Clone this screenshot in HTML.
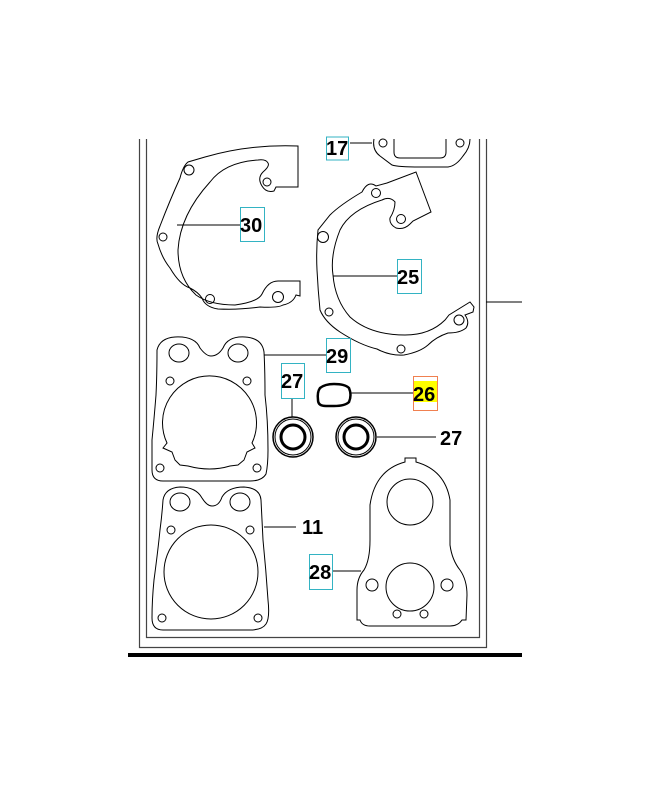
<!DOCTYPE html>
<html><head><meta charset="utf-8"><style>
html,body{margin:0;padding:0;background:#fff;}
svg{display:block}
text{font-family:"Liberation Sans",sans-serif;font-weight:bold;font-size:20px;fill:#000}
</style></head><body>
<svg width="652" height="800" viewBox="0 0 652 800" xmlns="http://www.w3.org/2000/svg">
<g fill="none" stroke="#000" stroke-width="1">
<path d="M139.5 139 V647.5 H486.5 V139" stroke="#444" stroke-width="1.2"/>
<path d="M146.5 139 V637.5 H479.5 V139" stroke="#444" stroke-width="1.2"/>
<line x1="486" y1="302" x2="522" y2="302"/>
<rect x="128" y="653" width="394" height="4" fill="#000" stroke="none"/>

<!-- gasket 17 partial -->
<path d="M374 139 Q372 150 380 156 L392 165 Q398 167 420 167 L448 167 Q456 166 463 156 Q470 148 470 139"/>
<path d="M394 139 V152 Q394 158 400 158 H440 Q446 158 446 152 V139"/>
<circle cx="383" cy="143" r="4"/><circle cx="460" cy="143" r="4"/>
<line x1="350" y1="143" x2="372" y2="143"/>

<!-- gasket 30 -->
<path d="M298 146 V187 H276 L274 191 Q266 193 262 186 Q257 178 263 172 Q270 166 268 163 Q266 159 258 160 Q225 162 210 182 Q180 215 178 250 Q178 278 196 295 Q210 305 235 305 Q258 302 262 294 Q268 281 278 281 H300 V296 L296 295 Q293 303 283 305 Q278 308 260 307 Q240 310 218 309 Q205 307 202 298 Q198 292 190 288 Q180 285 170 268 Q162 258 158 244 Q155 238 160 226 Q170 200 180 178 Q183 166 188 162 L205 157 Q250 144 298 146Z"/>
<circle cx="189" cy="170" r="5"/><circle cx="163" cy="237" r="4"/><circle cx="210" cy="299" r="4.5"/><circle cx="278" cy="297" r="5.5"/><circle cx="267" cy="182" r="4"/>
<line x1="177" y1="225" x2="240" y2="225"/>

<!-- gasket 25 -->
<path d="M416 172 L431 212 L413 221 L410 224 Q404 230 396 228 Q389 224 390 218 Q395 210 395 202 Q390 196 382 200 Q350 210 340 230 Q330 255 333 275 Q335 300 350 317 Q370 335 405 335 Q430 335 445 320 L449 315 L470 302 L474 307 L473 312 L465 315 Q470 322 466 328 Q460 333 448 333 Q436 337 428 345 Q420 352 404 355 Q390 356 377 349 Q360 345 340 332 Q325 322 320 310 Q318 290 317 270 Q316 250 318 230 Q322 225 330 215 Q340 205 362 192 Q368 180 376 186 L387 183 Z"/>
<circle cx="376" cy="193" r="4.5"/><circle cx="323" cy="237" r="5.5"/><circle cx="329" cy="312" r="4"/><circle cx="401" cy="349" r="4"/><circle cx="459" cy="320" r="5"/><circle cx="401" cy="219" r="4.5"/>
<line x1="333" y1="276" x2="397" y2="276"/>

<!-- gasket 29 -->
<path d="M157 350 Q160 338 175 337 Q195 336 200 348 Q206 356 211 356 Q218 356 223 348 Q228 336 245 337 Q262 338 264 352 Q265 370 265 395 Q268 420 268 450 Q268 465 266 474 Q262 481 250 481 H163 Q152 481 152 470 Q152 455 152 440 Q154 420 156 395 Q157 375 157 350Z"/>
<ellipse cx="179" cy="353" rx="10" ry="9"/><ellipse cx="238" cy="353" rx="10" ry="9"/>
<circle cx="170" cy="381" r="4"/><circle cx="247" cy="381" r="4"/>
<circle cx="160" cy="468" r="4"/><circle cx="257" cy="468" r="4"/>
<path d="M167 443 A47 47 0 1 1 252 443 L255 448 L247 452 L244 460 L238 465 L230 466 Q210 472 188 466 L180 465 L175 460 L172 452 L163 448Z"/>
<line x1="264" y1="355" x2="326" y2="355"/>

<!-- gasket 11 -->
<path d="M163 500 Q165 488 180 487 Q196 487 202 498 Q207 506 212 506 Q219 506 222 497 Q228 487 244 487 Q260 488 261 500 Q262 520 263 540 Q266 570 268 600 Q270 618 266 624 Q262 630 250 630 H163 Q152 630 152 618 Q152 600 154 580 Q158 550 160 530 Q162 515 163 500Z"/>
<ellipse cx="180" cy="502" rx="10" ry="9"/><ellipse cx="240" cy="502" rx="10" ry="9"/>
<circle cx="171" cy="530" r="4"/><circle cx="250" cy="530" r="4"/>
<circle cx="162" cy="618" r="4"/><circle cx="258" cy="618" r="4"/>
<circle cx="211" cy="572" r="47"/>
<line x1="264" y1="527" x2="296" y2="527"/>

<!-- gasket 28 -->
<path d="M405 462 L405 458 H416 V462 Q445 470 450 500 L450 545 Q452 560 460 570 Q467 580 467 595 L466 620 L462 620 Q458 626 450 626 H370 Q362 626 360 620 L357 620 L357 590 Q357 578 364 570 Q370 560 370 540 L370 505 Q375 470 405 462Z"/>
<circle cx="410" cy="502" r="23"/><circle cx="410" cy="587" r="24"/>
<circle cx="372" cy="585" r="6"/><circle cx="447" cy="585" r="6"/>
<circle cx="397" cy="614" r="4"/><circle cx="424" cy="614" r="4"/>
<line x1="333" y1="571" x2="361" y2="571"/>

<path d="M320 388 Q325 384 334 384 Q345 384 349 388 Q352 395 349 402 Q345 406 334 406 H326 Q318 406 318 400 Q317 392 320 388Z" stroke-width="2.5"/>
<line x1="351" y1="393" x2="413" y2="393"/>

<circle cx="293" cy="437" r="20" stroke-width="1.5"/><circle cx="293" cy="437" r="18"/><circle cx="293" cy="437" r="12" stroke-width="3"/>
<circle cx="356" cy="437" r="20" stroke-width="1.5"/><circle cx="356" cy="437" r="18"/><circle cx="356" cy="437" r="12" stroke-width="3"/>
<line x1="292" y1="398" x2="292" y2="417"/>
<line x1="377" y1="437" x2="436" y2="437"/>

<g stroke="#33b3c3" stroke-width="1">
<rect x="326.5" y="137" width="22" height="23"/>
<rect x="240.5" y="207.5" width="24" height="34"/>
<rect x="397.5" y="259.5" width="24" height="34"/>
<rect x="326.5" y="338.5" width="24" height="34"/>
<rect x="281.5" y="363.5" width="23" height="35"/>
<rect x="309.5" y="554.5" width="23" height="35"/>
</g>
<rect x="413" y="381" width="24" height="21" fill="#ffff00" stroke="none"/>
<rect x="413.5" y="376.5" width="24" height="34" stroke="#f08050"/>
</g>
<text x="326" y="155">17</text>
<text x="240" y="232">30</text>
<text x="397" y="284">25</text>
<text x="326" y="363">29</text>
<text x="281" y="388">27</text>
<text x="413" y="401">26</text>
<text x="440" y="445">27</text>
<text x="302" y="534">11</text>
<text x="309" y="579">28</text>
</svg>
</body></html>
